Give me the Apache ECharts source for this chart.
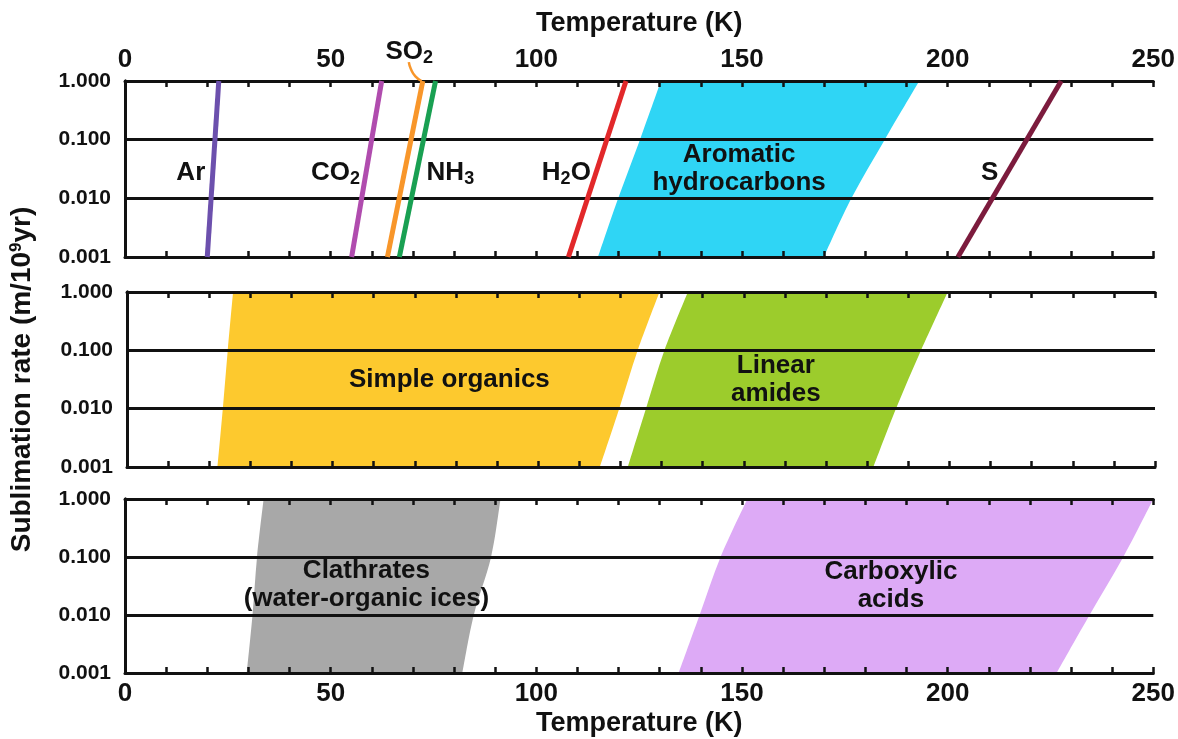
<!DOCTYPE html>
<html>
<head>
<meta charset="utf-8">
<title>Sublimation rate vs temperature</title>
<script src="https://cdn.jsdelivr.net/npm/echarts@6/dist/echarts.min.js"></script>
<style>
  html, body { margin: 0; padding: 0; background: #ffffff; }
  #chart { width: 1178px; height: 739px; }
</style>
</head>
<body>
<div id="chart"></div>
<script>
// ---- data -----------------------------------------------------------------
// Sublimation-rate levels (m / 10^9 yr) at which the band edges are given
const RATE_LEVELS = [0.001, 0.01, 0.1, 1];
const X_TICK_LABELS = [0, 50, 100, 150, 200, 250];

// Pure ices: temperature (K) reached at 0.001 and at 1.000 m/10^9 yr
const speciesNames = ['Ar', 'CO2', 'SO2', 'NH3', 'H2O', 'S'];
const speciesTempLow = [20.0, 55.1, 63.8, 66.7, 107.8, 202.5];
const speciesTempHigh = [22.8, 62.4, 72.4, 75.5, 121.8, 227.6];

// Compound families: cool and warm bound (K) at each rate level
const aromaticCool = [115.0, 119.9, 125.2, 130.3];
const aromaticWarm = [169.9, 176.6, 184.7, 193.1];
const simpleOrganicsCool = [22.0, 23.3, 24.5, 25.8];
const simpleOrganicsWarm = [115.0, 119.7, 124.2, 129.5];
const linearAmidesCool = [121.8, 126.2, 130.7, 136.4];
const linearAmidesWarm = [181.5, 187.0, 193.1, 199.6];
const clathratesCool = [29.6, 31.0, 32.1, 33.7];
const clathratesWarm = [82.0, 84.8, 89.0, 91.3];
const carboxylicCool = [134.6, 139.7, 144.8, 151.3];
const carboxylicWarm = [226.5, 234.5, 242.7, 250.0];

// Leader from the SO2 caption down to its curve (temperature K, rate)
const so2LeaderTemp = [69.0, 69.5, 70.6, 72.1];
const so2LeaderRate = [2.1, 1.6, 1.2, 1.0];

// Captions, anchored in data units (temperature K, rate)
const topCaptionText = ['{m|Ar}', '{m|CO}{s|2}', '{m|SO}{s|2}', '{m|NH}{s|3}', '{m|H}{s|2}{m|O}', '{m|Aromatic}\n{m|hydrocarbons}', '{m|S}'];
const topCaptionTemp = [16.0, 51.2, 69.1, 79.1, 107.3, 149.3, 210.2];
const topCaptionRate = [0.027, 0.027, 3.2, 0.027, 0.027, 0.0323, 0.027];
const midCaptionText = ['{m|Simple organics}', '{m|Linear}\n{m|amides}'];
const midCaptionTemp = [78.4, 157.8];
const midCaptionRate = [0.031, 0.031];
const lowCaptionText = ['{m|Clathrates}\n{m|(water-organic ices)}', '{m|Carboxylic}\n{m|acids}'];
const lowCaptionTemp = [58.7, 186.2];
const lowCaptionRate = [0.0329, 0.0316];

// ---- styling ----------------------------------------------------------------
const INK = '#111111';
const FONT = '"Liberation Sans", Arial, Helvetica, sans-serif';
const SPECIES_COLORS = {
  Ar: '#6c50ad', CO2: '#b04cae', SO2: '#f8962a', NH3: '#19a052', H2O: '#e2282a', S: '#7c1b3d'
};
const BAND_COLORS = {
  aromatic: '#2fd5f5', simple: '#fdc92e', amides: '#9ccc2c', clathrates: '#a8a8a8', carboxylic: '#ddaaf6'
};

const GRIDS = [
  { left: 125, top: 81, width: 1030, height: 176 },
  { left: 125, top: 292, width: 1030, height: 175 },
  { left: 125, top: 499, width: 1030, height: 174 }
];

const nameStyle = { fontSize: 27, fontWeight: 'bold', color: INK, fontFamily: FONT };

function xAxisFor(gridIndex, position, withLabels, title, gap) {
  return {
    type: 'value', gridIndex, position, min: 0, max: 250, interval: 10, z: 3,
    axisLine: { show: true, onZero: false, lineStyle: { color: INK, width: 3 } },
    axisTick: { show: true, inside: true, length: 6, lineStyle: { color: INK, width: 2.5 } },
    axisLabel: {
      show: withLabels, margin: 8, fontSize: 26, fontWeight: 'bold', color: INK, fontFamily: FONT,
      formatter: v => (X_TICK_LABELS.indexOf(Math.round(v)) >= 0 ? String(Math.round(v)) : '')
    },
    splitLine: { show: false },
    name: title || '', nameLocation: 'middle', nameGap: gap || 0, nameTextStyle: nameStyle
  };
}

function yAxisLeft(gridIndex, title) {
  return {
    type: 'log', logBase: 10, gridIndex, position: 'left', min: 0.001, max: 1, z: 3,
    axisLine: { show: true, lineStyle: { color: INK, width: 3 } },
    axisTick: { show: false },
    axisLabel: {
      margin: 14, fontSize: 21, fontWeight: 'bold', color: INK, fontFamily: FONT,
      formatter: v => Number(v).toFixed(3)
    },
    splitLine: { show: true, lineStyle: { color: INK, width: 3 } },
    name: title || '', nameLocation: 'middle', nameGap: 90,
    nameTextStyle: Object.assign({}, nameStyle, {
      fontSize: 28,
      rich: { sup: { fontSize: 17, fontWeight: 'bold', fontFamily: FONT, color: INK, padding: [0, 0, 12, 0] } }
    })
  };
}

function yAxisRight(gridIndex) {
  return {
    type: 'log', logBase: 10, gridIndex, position: 'right', min: 0.001, max: 1, z: 3,
    axisLine: { show: true, lineStyle: { color: INK, width: 3 } },
    axisTick: { show: false }, axisLabel: { show: false }, splitLine: { show: false }
  };
}

// Smooth edge through pixel points (Catmull-Rom written as cubic Beziers)
function smoothEdge(pts) {
  let d = '';
  const n = pts.length - 1;
  for (let i = 0; i < n; i++) {
    const p0 = pts[Math.max(i - 1, 0)], p1 = pts[i], p2 = pts[i + 1], p3 = pts[Math.min(i + 2, n)];
    const c1 = [p1[0] + (p2[0] - p0[0]) / 6, p1[1] + (p2[1] - p0[1]) / 6];
    const c2 = [p2[0] - (p3[0] - p1[0]) / 6, p2[1] - (p3[1] - p1[1]) / 6];
    d += ' C ' + c1[0] + ' ' + c1[1] + ' ' + c2[0] + ' ' + c2[1] + ' ' + p2[0] + ' ' + p2[1];
  }
  return d;
}

// Filled band between a cool and a warm edge
function bandSeries(name, cool, warm, gridIndex, color) {
  const coolPts = cool.map((t, i) => [t, RATE_LEVELS[i]]);
  const warmPts = warm.map((t, i) => [t, RATE_LEVELS[i]]).reverse();
  return {
    type: 'custom', name, xAxisIndex: gridIndex * 2, yAxisIndex: gridIndex * 2,
    z: 1, silent: true, animation: false, data: coolPts.concat(warmPts),
    renderItem(params, api) {
      if (params.dataIndex !== 0) return null;
      const a = coolPts.map(p => api.coord(p));
      const b = warmPts.map(p => api.coord(p));
      const d = 'M ' + a[0][0] + ' ' + a[0][1] + smoothEdge(a) +
        ' L ' + b[0][0] + ' ' + b[0][1] + smoothEdge(b) + ' Z';
      return { type: 'path', shape: { pathData: d }, style: { fill: color } };
    }
  };
}

const captionRich = {
  m: { fontSize: 26, fontWeight: 'bold', fontFamily: FONT, color: INK, lineHeight: 28 },
  s: { fontSize: 18, fontWeight: 'bold', fontFamily: FONT, color: INK, padding: [13, 0, 0, 0] }
};

function captionSeries(gridIndex, texts, temps, rates) {
  return {
    type: 'scatter', xAxisIndex: gridIndex * 2, yAxisIndex: gridIndex * 2,
    symbolSize: 0, clip: false, silent: true, z: 6, animation: false,
    itemStyle: { opacity: 1 },
    data: texts.map((txt, i) => ({ name: txt, value: [temps[i], rates[i]] })),
    label: {
      show: true, position: 'inside', formatter: p => p.name, opacity: 1,
      color: INK, fontFamily: FONT, fontWeight: 'bold', fontSize: 26, align: 'center',
      rich: captionRich
    }
  };
}

const series = [];
series.push(bandSeries('Aromatic hydrocarbons', aromaticCool, aromaticWarm, 0, BAND_COLORS.aromatic));
series.push(bandSeries('Simple organics', simpleOrganicsCool, simpleOrganicsWarm, 1, BAND_COLORS.simple));
series.push(bandSeries('Linear amides', linearAmidesCool, linearAmidesWarm, 1, BAND_COLORS.amides));
series.push(bandSeries('Clathrates', clathratesCool, clathratesWarm, 2, BAND_COLORS.clathrates));
series.push(bandSeries('Carboxylic acids', carboxylicCool, carboxylicWarm, 2, BAND_COLORS.carboxylic));

speciesNames.forEach((n, i) => {
  series.push({
    type: 'line', name: n, xAxisIndex: 0, yAxisIndex: 0, z: 4, silent: true, animation: false,
    symbol: 'none',
    data: [[speciesTempLow[i], RATE_LEVELS[0]], [speciesTempHigh[i], RATE_LEVELS[RATE_LEVELS.length - 1]]],
    lineStyle: { color: SPECIES_COLORS[n], width: 5, cap: 'butt' }
  });
});

series.push({
  type: 'line', name: 'SO2 leader', xAxisIndex: 0, yAxisIndex: 0, z: 4, silent: true,
  animation: false, clip: false, symbol: 'none', smooth: true,
  data: so2LeaderTemp.map((t, i) => [t, so2LeaderRate[i]]),
  lineStyle: { color: SPECIES_COLORS.SO2, width: 2.5 }
});

series.push(captionSeries(0, topCaptionText, topCaptionTemp, topCaptionRate));
series.push(captionSeries(1, midCaptionText, midCaptionTemp, midCaptionRate));
series.push(captionSeries(2, lowCaptionText, lowCaptionTemp, lowCaptionRate));

const option = {
  backgroundColor: '#ffffff',
  animation: false,
  textStyle: { fontFamily: FONT },
  grid: GRIDS.map(g => Object.assign({ containLabel: false }, g)),
  xAxis: [
    xAxisFor(0, 'bottom', false),
    xAxisFor(0, 'top', true, 'Temperature (K)', 44),
    xAxisFor(1, 'bottom', false),
    xAxisFor(1, 'top', false),
    xAxisFor(2, 'bottom', true, 'Temperature (K)', 37),
    xAxisFor(2, 'top', false)
  ],
  yAxis: [
    yAxisLeft(0),
    yAxisRight(0),
    yAxisLeft(1, 'Sublimation rate (m/10{sup|9}yr)'),
    yAxisRight(1),
    yAxisLeft(2),
    yAxisRight(2)
  ],
  series
};

const chart = echarts.init(document.getElementById('chart'), null, { renderer: 'canvas' });
chart.setOption(option);
</script>
</body>
</html>
